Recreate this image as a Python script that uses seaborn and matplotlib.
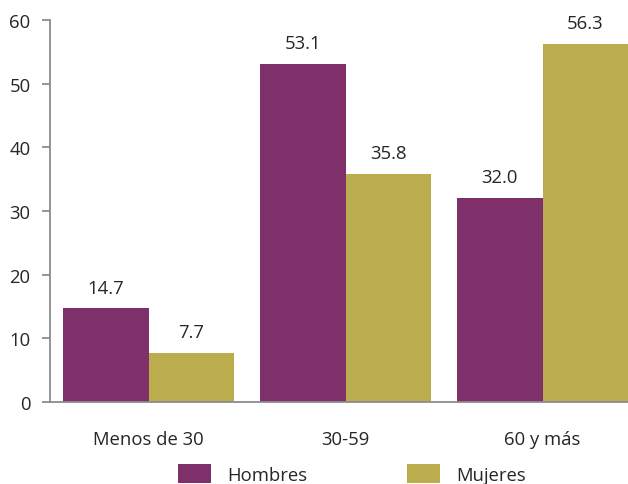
import matplotlib
matplotlib.use("Agg")
import matplotlib.pyplot as plt
import seaborn as sns
import pandas as pd

categories = ["Menos de 30", "30-59", "60 y más"]
series = ["Hombres", "Mujeres"]
hombres = [14.7, 53.1, 32.0]
mujeres = [7.7, 35.8, 56.3]
colors = ["#7F2F6A", "#BBAD4E"]

df = pd.DataFrame({
    "grupo": categories * 2,
    "sexo": [series[0]] * 3 + [series[1]] * 3,
    "valor": hombres + mujeres,
})

sns.set_theme(style="white")
plt.rcParams["font.family"] = ["Open Sans", "DejaVu Sans"]
text_color = "#262626"
spine_color = "#8C8C8C"
fs = 13.3

fig = plt.figure(figsize=(6.28, 4.85), dpi=100)
ax = fig.add_axes([50 / 628, (485 - 403) / 485, 578 / 628, 382 / 485])

sns.barplot(data=df, x="grupo", y="valor", hue="sexo", order=categories,
            hue_order=series, palette=colors, width=0.87, saturation=1,
            edgecolor="none", linewidth=0, ax=ax)

for container in ax.containers:
    for bar in container:
        h = bar.get_height()
        ax.annotate(f"{h:.1f}", (bar.get_x() + bar.get_width() / 2, h),
                    xytext=(0, 15), textcoords="offset points",
                    ha="center", va="center", fontsize=fs, color=text_color)

ax.set_xlim(-0.5, 2.434)
ax.set_ylim(0, 60)
ax.set_yticks(range(0, 61, 10))
ax.set_xlabel("")
ax.set_ylabel("")
for s in ["top", "right"]:
    ax.spines[s].set_visible(False)
for s in ["left", "bottom"]:
    ax.spines[s].set_color(spine_color)
    ax.spines[s].set_linewidth(1.3)
ax.tick_params(axis="y", which="both", left=True, length=6, width=1.3,
               color=spine_color, labelsize=fs, labelcolor=text_color, pad=8)
ax.tick_params(axis="x", bottom=False, labelsize=fs, labelcolor=text_color, pad=14)

ax.legend(loc="center", bbox_to_anchor=(352 / 628, 10 / 485),
          bbox_transform=fig.transFigure, ncol=2, frameon=False,
          fontsize=fs, handlelength=1.76, handleheight=1.2,
          handletextpad=0.9, columnspacing=5.4, labelcolor=text_color,
          borderaxespad=0, borderpad=0)

fig.savefig("out.png", dpi=100)
